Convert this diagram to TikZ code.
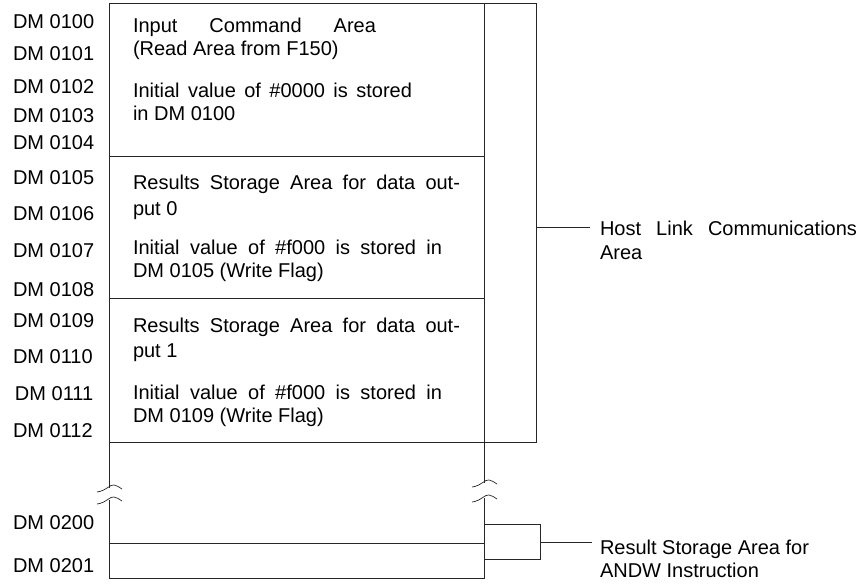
\documentclass[tikz,border=0pt]{standalone}
\usepackage{fontspec}
\setmainfont{Liberation Sans}
\begin{document}
\begin{tikzpicture}[x=1pt,y=-1pt,line width=0.8pt,
  every node/.style={inner sep=0pt,outer sep=0pt},
  lab/.style={anchor=base west,font=\fontsize{20}{22}\selectfont},
  ln/.style={draw=black!85},
  brk/.pic={\draw[ln,line width=0.7pt] (-12,4) .. controls (-3,3) and (1,-4) .. (5,-3) .. controls (8,-2.5) and (10,-1) .. (13,1);}]
\useasboundingbox (0,0) rectangle (863,584);
% main box
\coordinate (tl) at (109,3);
\coordinate (tr) at (484,3);
\coordinate (bl) at (109,578);
\coordinate (br) at (484,578);
\draw[ln] (109,488) -- (tl) -- (tr) -- (484,483);
\draw[ln] (109,500) -- (bl) -- (br) -- (484,498);
\draw[ln] (109,156) -- (484,156);
\draw[ln] (109,298) -- (484,298);
\draw[ln] (109,442) -- (484,442);
\draw[ln] (109,543) -- (484,543);
% break marks
\pic at (109,488) {brk};
\pic at (109,500) {brk};
\pic at (484,483) {brk};
\pic at (484,498) {brk};
% brackets
\draw[ln] (tr) -- (536,3) -- (536,442) -- (484,442);
\coordinate (hb) at (536,227);
\coordinate (hl) at (590,227);
\draw[ln] (hb) -- (hl);
\draw[ln] (484,524) -- (540,524) -- (540,559) -- (484,559);
\coordinate (rb) at (540,542);
\coordinate (rl) at (592,542);
\draw[ln] (rb) -- (rl);
% right labels
\node[lab] (h1) at (600,235) {\makebox[257pt][s]{Host Link Communications}};
\node[lab] (h2) at (600,259) {Area};
\node[lab] (r1) at (600,554) {Result Storage Area for};
\node[lab] (r2) at (600,577) {ANDW Instruction};
% address labels
\node[lab] (a100) at (13,28) {DM 0100};
\node[lab] (a101) at (13,60) {DM 0101};
\node[lab] (a102) at (13,93) {DM 0102};
\node[lab] (a103) at (13,122) {DM 0103};
\node[lab] (a104) at (13,149) {DM 0104};
\node[lab] (a105) at (13,184) {DM 0105};
\node[lab] (a106) at (13,220) {DM 0106};
\node[lab] (a107) at (13,257) {DM 0107};
\node[lab] (a108) at (13,296) {DM 0108};
\node[lab] (a109) at (13,327) {DM 0109};
\node[lab] (a110) at (13,363) {DM 0110};
\node[lab] (a111) at (15,400) {DM 0111};
\node[lab] (a112) at (13,437) {DM 0112};
\node[lab] (a200) at (13,529) {DM 0200};
\node[lab] (a201) at (13,572) {DM 0201};
% section texts
\node[lab] (s1a) at (133,32) {\makebox[243pt][s]{Input Command Area}};
\node[lab] (s1b) at (133,55) {(Read Area from F150)};
\node[lab] (s1c) at (133,97) {\makebox[279pt][s]{Initial value of \#0000 is stored}};
\node[lab] (s1d) at (133,120) {in DM 0100};
\node[lab] (s2a) at (133,189) {\makebox[327pt][s]{Results Storage Area for data out-}};
\node[lab] (s2b) at (133,215) {put 0};
\node[lab] (s2c) at (133,254) {\makebox[309pt][s]{Initial value of \#f000 is stored in}};
\node[lab] (s2d) at (133,277) {DM 0105 (Write Flag)};
\node[lab] (s3a) at (133,332) {\makebox[327pt][s]{Results Storage Area for data out-}};
\node[lab] (s3b) at (133,357) {put 1};
\node[lab] (s3c) at (133,399) {\makebox[309pt][s]{Initial value of \#f000 is stored in}};
\node[lab] (s3d) at (133,422) {DM 0109 (Write Flag)};
\end{tikzpicture}
\end{document}
